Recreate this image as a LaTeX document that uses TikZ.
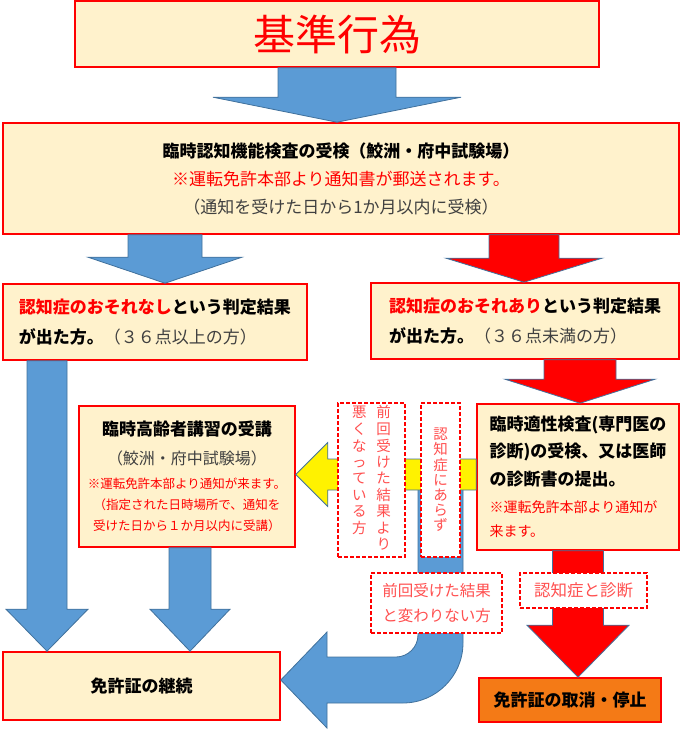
\documentclass[tikz,border=0pt]{standalone}
\usepackage{fontspec}
\setmainfont{Noto Sans CJK JP}
\usetikzlibrary{positioning,calc}

\definecolor{cream}{HTML}{FFF2CC}
\definecolor{boxred}{HTML}{FF0000}
\definecolor{arrblue}{HTML}{5B9BD5}
\definecolor{arredge}{HTML}{41719C}
\definecolor{darktxt}{HTML}{404040}
\definecolor{pinktxt}{HTML}{FF4F4F}
\definecolor{orangefill}{HTML}{F47A16}

% block arrow pointing down: style, top, tip, shaft half width, head half width, head length
\newcommand\downarr[6]{%
  \path[#1] let \p1=(#2), \p2=(#3) in
    (\x1-#4,\y1) -- (\x1+#4,\y1) -- (\x1+#4,\y2+#6) -- (\x1+#5,\y2+#6)
    -- (\x1,\y2) -- (\x1-#5,\y2+#6) -- (\x1-#4,\y2+#6) -- cycle;}
% block arrow pointing left: style, tail, tip, shaft half width, head half width, head length
\newcommand\leftarr[6]{%
  \path[#1] let \p1=(#2), \p2=(#3) in
    (\x1,\y1+#4) -- (\x2+#6,\y1+#4) -- (\x2+#6,\y1+#5) -- (\x2,\y1)
    -- (\x2+#6,\y1-#5) -- (\x2+#6,\y1-#4) -- (\x1,\y1-#4) -- cycle;}

\begin{document}
\begin{tikzpicture}[
  x=1pt, y=-1pt,
  every node/.style={inner sep=0pt, anchor=center},
  box/.style={draw=boxred, line width=1.6pt, fill=cream,
              font=\fontsize{17}{29}\selectfont},
  dashbox/.style={draw=boxred, line width=1.4pt, dash pattern=on 4pt off 2pt,
                  fill=white, text=pinktxt},
  bluearr/.style={fill=arrblue, draw=arredge, line width=0.8pt},
  redarr/.style={fill=boxred, draw=arredge, line width=0.8pt},
  yelarr/.style={fill=yellow, draw=arredge, line width=0.8pt}
]
\useasboundingbox (0,0) rectangle (680,732);

% solid boxes
\node[box, minimum width=524pt, minimum height=66pt, text=boxred,
      font=\fontsize{42}{50}\selectfont] (title) at (337,34) {基準行為};
\node[box, minimum width=676pt, minimum height=111pt, align=center,
      font=\fontsize{17}{28}\selectfont] (exam) at (341,178.5)
  {{\bfseries 臨時認知機能検査の受検（鮫洲・府中試験場）}\\
   {\color{boxred}※運転免許本部より通知書が郵送されます。}\\
   {\color{darktxt}（通知を受けた日から1か月以内に受検）}};
\node[box, minimum width=304pt, minimum height=76pt, align=left,
      font=\fontsize{17}{30}\selectfont] (safe) at (155,322)
  {\bfseries{\color{boxred}認知症のおそれなし}という判定結果\\
   {\bfseries が出た方。}{\color{darktxt}（３６点以上の方）}};
\node[box, minimum width=308pt, minimum height=76pt, align=left,
      font=\fontsize{17}{30}\selectfont] (risk) at (525,321)
  {\bfseries{\color{boxred}認知症のおそれあり}という判定結果\\
   {\bfseries が出た方。}{\color{darktxt}（３６点未満の方）}};
\node[box, minimum width=216pt, minimum height=141pt, align=center,
      font=\fontsize{17}{21}\selectfont] (lecture) at (187,476.5)
  {{\bfseries 臨時高齢者講習の受講}\\[8pt]
   {\color{darktxt}\fontsize{16}{21}\selectfont（鮫洲・府中試験場）}\\[3pt]
   {\color{boxred}\fontsize{12.5}{21}\selectfont ※運転免許本部より通知が来ます。}\\
   {\color{boxred}\fontsize{12.5}{21}\selectfont （指定された日時場所で、通知を}\\
   {\color{boxred}\fontsize{12.5}{21}\selectfont 受けた日から１か月以内に受講）}};
\node[box, minimum width=202pt, minimum height=146pt, align=left,
      font=\fontsize{17}{27.5}\selectfont] (aptitude) at (578,477)
  {{\bfseries 臨時適性検査(専門医の}\\
   {\bfseries 診断)の受検、又は医師}\\
   {\bfseries の診断書の提出。}\\
   {\color{boxred}\fontsize{14}{24}\selectfont ※運転免許本部より通知が}\\[-3.5pt]
   {\color{boxred}\fontsize{14}{24}\selectfont 来ます。}};
\node[box, minimum width=277pt, minimum height=68pt,
      font=\fontsize{17}{29}\selectfont\bfseries] (keep) at (141.5,686) {免許証の継続};
\node[box, fill=orangefill, minimum width=182pt, minimum height=44pt,
      font=\fontsize{17}{29}\selectfont\bfseries] (revoke) at (570,700) {免許証の取消・停止};

% U-turn back to the licence box
\path[bluearr] (418,488) -- (463,488) -- (463,643)
  .. controls (463,676) and (436,703) .. (403,703) -- (327,703) -- (327,728)
  -- (keep.east |- 0,680) -- (327,632) -- (327,657) -- (396,657)
  .. controls (408,657) and (418,647) .. (418,635) -- cycle;
\leftarr{yelarr}{aptitude.west |- 0,474.5}{lecture.east}{15.5}{32}{32}

\downarr{bluearr}{337,0 |- title.south}{exam.north}{59}{124}{25}
\downarr{bluearr}{165,0 |- exam.south}{safe.north}{37}{77}{26}
\downarr{redarr}{524,0 |- exam.south}{risk.north}{35}{78}{24}
\downarr{bluearr}{47,0 |- safe.south}{keep.north}{20}{41}{42}
\downarr{bluearr}{190,0 |- lecture.south}{keep.north}{21}{40}{42}
\downarr{redarr}{580,0 |- risk.south}{aptitude.north}{36}{75}{24}
\downarr{redarr}{578,0 |- aptitude.south}{revoke.north}{25.5}{51}{52}

% dashed labels
\node[dashbox, minimum width=67pt, minimum height=154pt,
      font=\fontsize{14.5}{15.7}\selectfont] (worse) at (371.5,480)
  {\begin{tabular}{@{}c@{\hspace{10pt}}c@{}}
   悪&前\\く&回\\な&受\\っ&け\\て&た\\い&結\\る&果\\方&よ\\&り
   \end{tabular}};
\node[dashbox, minimum width=39pt, minimum height=154pt, align=center,
      font=\fontsize{14.5}{15.2}\selectfont] (notdem) at (440.5,480)
  {認\\知\\症\\に\\あ\\ら\\ず};
\node[dashbox, minimum width=131pt, minimum height=60pt, align=center,
      font=\fontsize{15.5}{25}\selectfont] (same) at (436.5,603)
  {前回受けた結果\\と変わりない方};
\node[dashbox, minimum width=127pt, minimum height=35pt,
      font=\fontsize{16.5}{25}\selectfont] (diag) at (583.5,590.5) {認知症と診断};
\end{tikzpicture}
\end{document}
